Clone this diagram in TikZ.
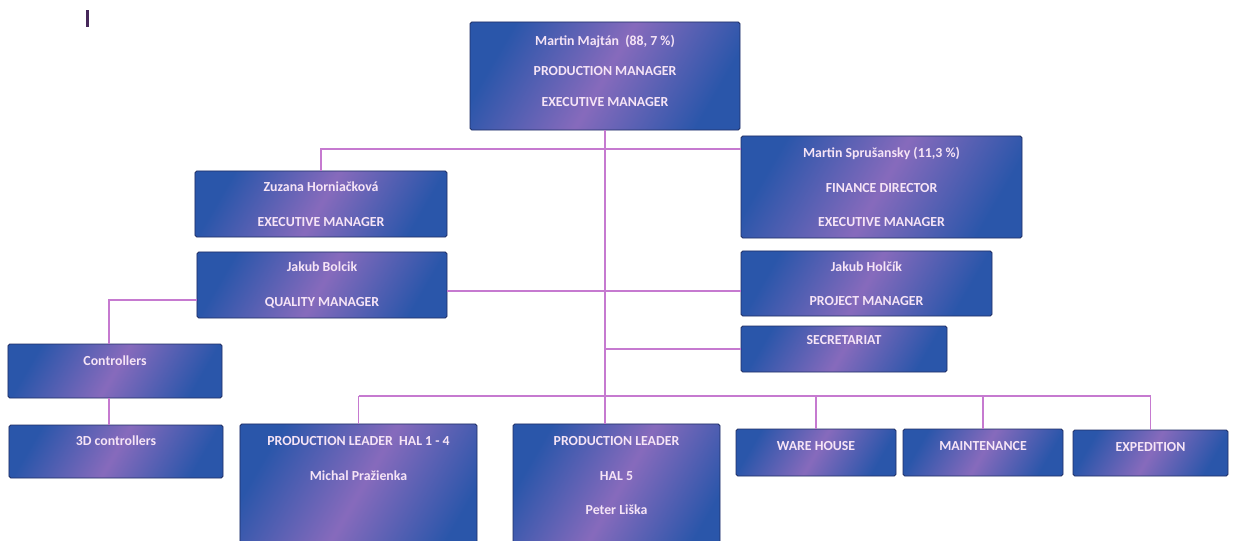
\documentclass[tikz,border=0pt]{standalone}
\usepackage{fontspec}
\setmainfont{Carlito}
\usepackage{tikz}
\usetikzlibrary{positioning}
\definecolor{boxblue}{RGB}{42,86,170}
\definecolor{boxpink}{RGB}{196,120,200}
\definecolor{boxedge}{RGB}{30,45,100}
\definecolor{linkpink}{RGB}{198,122,208}
\definecolor{textpink}{RGB}{246,228,246}
\definecolor{cursormark}{RGB}{70,40,90}
\tikzset{
  orgbox/.style={draw=boxedge, line width=.8pt, rounded corners=1.5pt,
    left color=boxblue, right color=boxblue, middle color=boxpink!60!boxblue,
    shading angle=60, text=textpink, align=center, inner sep=0pt,
    font=\fontsize{11.8}{29.5}\selectfont\bfseries},
  lift/.style={text height=8pt, text depth=#1},
  link/.style={draw=linkpink, line width=.9pt}
}

\begin{document}
\begin{tikzpicture}[x=.03cm,y=-.03cm]
    \clip (0,0) rectangle (1236,541);
    \fill[white] (0,0) rectangle (1236,541);
    \fill[cursormark] (86,10) rectangle (89,27);
    % owners and managers
    \node[orgbox, minimum width=8.1cm, minimum height=3.24cm,
      font=\fontsize{11.8}{26}\selectfont\bfseries] (majtan) at (605,76)
      {Martin Majtán\ \ (88, 7 \%)\\PRODUCTION MANAGER\\EXECUTIVE MANAGER\\[-17pt]\mbox{}};
    \node[orgbox, minimum width=7.56cm, minimum height=1.98cm] (zuz) at (321,204)
      {Zuzana Horniačková\\EXECUTIVE MANAGER};
    \node[orgbox, minimum width=8.43cm, minimum height=3.06cm] (spru) at (881.5,187)
      {Martin Sprušansky (11,3 \%)\\FINANCE DIRECTOR\\EXECUTIVE MANAGER};
    \node[orgbox, minimum width=7.5cm, minimum height=1.98cm] (qual) at (322,285)
      {Jakub Bolcik\\QUALITY MANAGER};
    \node[orgbox, minimum width=7.53cm, minimum height=1.95cm] (proj) at (866.5,283.5)
      {Jakub Holčík\\PROJECT MANAGER};
    \node[orgbox, lift=15pt, minimum width=6.18cm, minimum height=1.38cm] (secr) at (844,349)
      {SECRETARIAT};
    % controllers
    \node[orgbox, lift=18pt, minimum width=6.42cm, minimum height=1.62cm] (ctrl) at (115,371)
      {Controllers};
    \node[orgbox, lift=19pt, minimum width=6.42cm, minimum height=1.59cm] (ctrl3d) at (116,451.5)
      {3D controllers};
    % production level
    \node[orgbox, minimum width=7.11cm, minimum height=4.14cm] (hal14) at (358.5,493)
      {PRODUCTION LEADER\ \ HAL 1 - 4\\Michal Pražienka\\\mbox{}\\\mbox{}};
    \node[orgbox, minimum width=6.21cm, minimum height=4.14cm] (hal5) at (616.5,493)
      {PRODUCTION LEADER\\HAL 5\\Peter Liška\\\mbox{}};
    \node[orgbox, lift=11pt, minimum width=4.8cm, minimum height=1.41cm] (ware) at (816,452.5)
      {WARE HOUSE};
    \node[orgbox, lift=11pt, minimum width=4.8cm, minimum height=1.41cm] (maint) at (983,452.5)
      {MAINTENANCE};
    \node[orgbox, lift=11pt, minimum width=4.65cm, minimum height=1.38cm] (exped) at (1150.5,453)
      {EXPEDITION};
    % connectors
    \coordinate (busTop) at (604,149);
    \coordinate (midQ) at (604,291);
    \coordinate (ctrlBend) at (109,300);
    \coordinate (busLow) at (604,396);
    \draw[link] (majtan.south) -- (majtan.south |- hal5.north);
    \draw[link] (zuz.north) |- (spru.west |- busTop);
    \draw[link] (qual.east |- midQ) -- (proj.west |- midQ);
    \draw[link] (qual.west |- ctrlBend) -- (ctrlBend) -- (ctrlBend |- ctrl.north);
    \draw[link] (ctrlBend |- ctrl.south) -- (ctrlBend |- ctrl3d.north);
    \draw[link] (majtan.south |- secr.west) -- (secr.west);
    \draw[link] (hal14.north |- busLow) -- (exped.north |- busLow);
    \foreach \n in {hal14,ware,maint,exped}
      \draw[link] (\n.north |- busLow) -- (\n.north);
\end{tikzpicture}
\end{document}
